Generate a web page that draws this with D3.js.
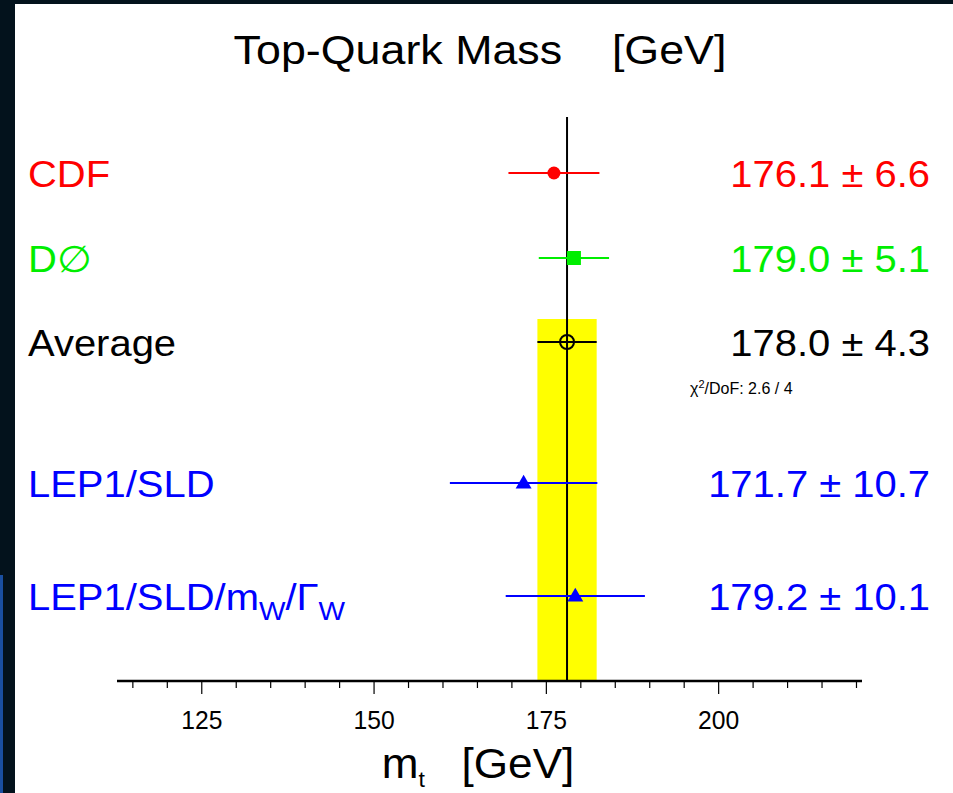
<!DOCTYPE html>
<html><head><meta charset="utf-8">
<script src="https://cdn.jsdelivr.net/npm/d3@7"></script>
<style>body{margin:0;background:#03121c;} svg{display:block;font-family:"Liberation Sans",Arial,sans-serif;}</style>
</head><body><div id="chart"></div>
<script>
var labels = ["CDF", "D\u2205", "Average", "LEP1/SLD", "LEP1/SLD/mW/ΓW"];
var values = [176.1, 179.0, 178.0, 171.7, 179.2];
var errors = [6.6, 5.1, 4.3, 10.7, 10.1];
var colors = ["#ff0000", "#00ee00", "#000000", "#0000ff", "#0000ff"];
var markers = ["circle", "square", "open", "triangle", "triangle"];
var rowY = [173, 258, 342, 483, 596];
var tickValues = [125, 150, 175, 200];
var average = 178.0, averageErr = 4.3;

var W = 953, H = 793;
var svg = d3.select("#chart").append("svg").attr("width", W).attr("height", H);
svg.append("rect").attr("width", W).attr("height", H).attr("fill", "#03121c");
svg.append("rect").attr("x", 0).attr("y", 575).attr("width", 3).attr("height", 218).attr("fill", "#1a4fa0");
svg.append("rect").attr("x", 15).attr("y", 4).attr("width", W - 15).attr("height", H - 4).attr("fill", "#fff");

var x = d3.scaleLinear().domain([112.7, 220.8]).range([117, 862]);
var axisY = 681;
var sx = 1.08;

svg.append("rect").attr("x", x(average - averageErr)).attr("y", 319)
  .attr("width", x(average + averageErr) - x(average - averageErr)).attr("height", axisY - 319)
  .attr("fill", "#ffff00");
svg.append("line").attr("x1", x(average)).attr("x2", x(average)).attr("y1", 117).attr("y2", axisY)
  .attr("stroke", "#000").attr("stroke-width", 2);

// axis
svg.append("line").attr("x1", 117).attr("x2", 862).attr("y1", axisY).attr("y2", axisY).attr("stroke", "#000").attr("stroke-width", 2.5);
var minor = d3.range(115, 221, 5);
svg.selectAll(".mt").data(minor).enter().append("line")
  .attr("x1", d => x(d)).attr("x2", d => x(d)).attr("y1", axisY)
  .attr("y2", d => axisY + (d % 25 === 0 ? 13 : 7)).attr("stroke", "#000").attr("stroke-width", 1.2);
svg.selectAll(".tl").data(tickValues).enter().append("text")
  .attr("transform", d => `translate(${x(d)},729) scale(0.95,1)`).attr("text-anchor", "middle")
  .attr("font-size", 26).text(d => d);

var xl = svg.append("text").attr("transform", "translate(478,778) scale(1.05,1)").attr("text-anchor", "middle").attr("font-size", 42);
xl.append("tspan").text("m");
xl.append("tspan").attr("font-size", 22).attr("dy", 9).text("t");
xl.append("tspan").attr("dy", -9).text("\u00a0\u00a0 [GeV]");

svg.append("text").attr("transform", "translate(480,64) scale(1.12,1)").attr("text-anchor", "middle").attr("font-size", 40)
  .text("Top-Quark Mass \u00a0\u00a0\u00a0[GeV]");

labels.forEach(function(l, i) {
  var y = rowY[i], c = colors[i];
  svg.append("line").attr("x1", x(values[i] - errors[i])).attr("x2", x(values[i] + errors[i]))
    .attr("y1", y).attr("y2", y).attr("stroke", c).attr("stroke-width", 2);
  var cx = x(values[i]);
  if (markers[i] === "circle") svg.append("circle").attr("cx", cx).attr("cy", y).attr("r", 6.5).attr("fill", c);
  else if (markers[i] === "square") svg.append("rect").attr("x", cx - 7).attr("y", y - 7).attr("width", 14).attr("height", 14).attr("fill", c);
  else if (markers[i] === "open") svg.append("circle").attr("cx", cx).attr("cy", y).attr("r", 7).attr("fill", "none").attr("stroke", c).attr("stroke-width", 2);
  else svg.append("path").attr("transform", `translate(${cx},${y + 1})`)
    .attr("d", d3.symbol(d3.symbolTriangle, 110)()).attr("fill", c);

  var t = svg.append("text").attr("transform", `translate(28,${y + 14}) scale(${sx},1)`).attr("font-size", 37).attr("fill", c);
  if (i === 4) {
    t.append("tspan").text("LEP1/SLD/m");
    t.append("tspan").attr("font-size", 26).attr("dy", 10).text("W");
    t.append("tspan").attr("dy", -10).text("/Γ");
    t.append("tspan").attr("font-size", 26).attr("dy", 10).text("W");
  } else t.text(l);

  svg.append("text").attr("transform", `translate(930,${y + 14}) scale(${sx},1)`).attr("text-anchor", "end").attr("font-size", 37)
    .attr("fill", c).attr("xml:space", "preserve")
    .text(values[i].toFixed(1) + "\u00a0\u00b1\u00a0" + errors[i].toFixed(1));
});

var chi = svg.append("text").attr("x", 690).attr("y", 394).attr("font-size", 16);
chi.append("tspan").text("χ");
chi.append("tspan").attr("font-size", 11).attr("dy", -6).text("2");
chi.append("tspan").attr("dy", 6).text("/DoF: 2.6 / 4");
</script></body></html>
